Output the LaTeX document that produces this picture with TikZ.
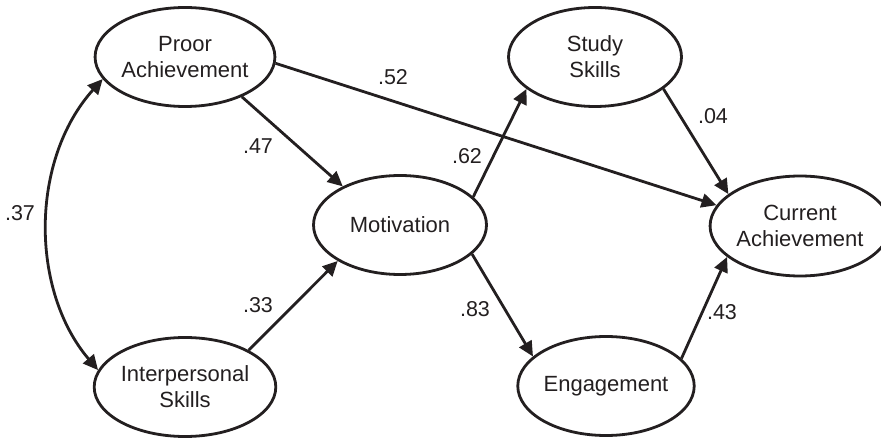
\documentclass[tikz,border=0pt]{standalone}
\usepackage{fontspec}
\setmainfont{Liberation Sans}
\usetikzlibrary{shapes.geometric,arrows.meta}
\definecolor{ink}{HTML}{231F20}
\tikzset{
  latent/.style={ellipse, draw=ink, line width=2.8pt, inner sep=0pt,
    minimum width=173pt, minimum height=99pt, align=center,
    font=\fontsize{22}{26}\selectfont, text=ink},
  path/.style={draw=ink, line width=2.8pt,
    -{Triangle[length=15pt,width=14pt]}},
  both/.style={draw=ink, line width=2.8pt,
    {Triangle[length=15pt,width=14pt]}-{Triangle[length=15pt,width=14pt]}},
  coef/.style={font=\fontsize{21.5}{24}\selectfont, text=ink, inner sep=0pt}
}
\begin{document}
\begin{tikzpicture}[x=1pt,y=-1pt]
\useasboundingbox (0,0) rectangle (881,438);

% constructs
\node[latent] (pa) at (185,57)  {Proor\\Achievement};
\node[latent] (is) at (185,387) {Interpersonal\\Skills};
\node[latent] (mo) at (400,225) {Motivation};
\node[latent] (ss) at (595,57)  {Study\\Skills};
\node[latent] (en) at (606,386) {Engagement};
\node[latent, minimum width=162pt, minimum height=100pt] (ca) at (800,226) {Current\\Achievement};

% directed paths
\draw[path] (pa.-35.7) -- (mo.146.8);
\draw[path] (is.30.2)  -- (mo.210.5);
\draw[path] (pa.-4)    -- (ca.166.1);
\draw[path] (mo.21.7)  -- (ss.205.3);
\draw[path] (mo.-22.3) -- (en.158.2);
\draw[path] (ss.-25.9) -- (ca.156.2);
\draw[path] (en.20.9)  -- (ca.203.3);

% correlation between the exogenous constructs
\draw[both] (pa.195) .. controls (30,160) and (30,290) .. (is.169);

% path coefficients
\node[coef] (c52) at (393,77)  {.52};
\node[coef] (c47) at (258,146) {.47};
\node[coef] (c62) at (467,156) {.62};
\node[coef] (c04) at (713,116) {.04};
\node[coef] (c33) at (258,305) {.33};
\node[coef] (c83) at (475,309) {.83};
\node[coef] (c43) at (722,312) {.43};
\node[coef] (c37) at (20,213)  {.37};
\end{tikzpicture}
\end{document}
